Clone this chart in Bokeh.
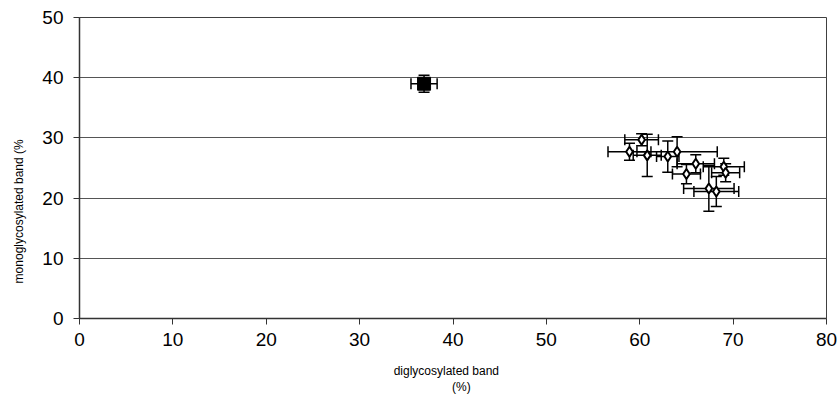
from bokeh.plotting import figure
from bokeh.models import ColumnDataSource, Whisker, TeeHead, FixedTicker, Range1d
from bokeh.embed import file_html
from bokeh.resources import INLINE

# ---- data ----
ref_x = [36.9]
ref_y = [39.0]
ref_xerr = [1.4]
ref_yerr = [1.4]

pts_x = [60.2, 58.9, 60.8, 63.0, 64.0, 66.0, 65.0, 69.0, 69.2, 67.4, 68.2]
pts_y = [29.7, 27.7, 27.1, 26.9, 27.7, 25.7, 24.0, 25.2, 24.2, 21.6, 21.1]
pts_xerr = [1.8, 2.3, 1.5, 1.2, 4.3, 2.0, 1.5, 2.2, 1.5, 2.7, 2.4]
pts_yerr = [1.0, 1.4, 3.5, 2.6, 2.5, 1.5, 1.6, 1.4, 1.5, 3.8, 2.5]

x_ticks = [0, 10, 20, 30, 40, 50, 60, 70, 80]
y_ticks = [0, 10, 20, 30, 40, 50]

x_title_lines = ["diglycosylated band", "(%)"]
y_title = "monoglycosylated band (%"

FONT = "Liberation Sans"
NBSP = "\u00a0"

p = figure(width=838, height=401, output_backend="svg", toolbar_location=None,
           x_range=Range1d(0, 80), y_range=Range1d(0, 50),
           min_border_left=79, min_border_right=12, min_border_top=17, min_border_bottom=83)
p.background_fill_color = "white"
p.border_fill_color = "white"
p.outline_line_color = "#404040"
p.outline_line_width = 1

p.xgrid.visible = False
p.ygrid.grid_line_color = "#555555"
p.ygrid.grid_line_width = 1
p.ygrid.ticker = FixedTicker(ticks=y_ticks)

for ax, ticks in ((p.xaxis, x_ticks), (p.yaxis, y_ticks)):
    ax.ticker = FixedTicker(ticks=ticks)
    ax.minor_tick_line_color = None
    ax.major_tick_in = 0
    ax.major_tick_out = 6
    ax.axis_line_color = "#333333"
    ax.axis_line_width = 1.5
    ax.major_tick_line_color = "#333333"
    ax.major_label_text_font = FONT
    ax.major_label_text_font_size = "19px"
    ax.major_label_text_color = "black"
    ax.axis_label_text_font = FONT
    ax.axis_label_text_font_size = "12px"
    ax.axis_label_text_font_style = "normal"
    ax.axis_label_text_color = "black"
p.xaxis.major_label_standoff = 8
p.yaxis.major_label_standoff = 10

# no-break spaces nudge each title line off-centre, as in the reference
p.xaxis.axis_label = x_title_lines[0] + NBSP * 4 + "\n" + NBSP * 5 + x_title_lines[1]
p.xaxis.axis_label_standoff = 15
p.xaxis.axis_label_text_line_height = 1.2
p.yaxis.axis_label = y_title + NBSP * 26
p.yaxis.axis_label_standoff = 13

# error bars
src_pts = ColumnDataSource(dict(
    x=pts_x, y=pts_y,
    xl=[a - b for a, b in zip(pts_x, pts_xerr)], xu=[a + b for a, b in zip(pts_x, pts_xerr)],
    yl=[a - b for a, b in zip(pts_y, pts_yerr)], yu=[a + b for a, b in zip(pts_y, pts_yerr)],
))
src_ref = ColumnDataSource(dict(
    x=ref_x, y=ref_y,
    xl=[a - b for a, b in zip(ref_x, ref_xerr)], xu=[a + b for a, b in zip(ref_x, ref_xerr)],
    yl=[a - b for a, b in zip(ref_y, ref_yerr)], yu=[a + b for a, b in zip(ref_y, ref_yerr)],
))

def head():
    return TeeHead(size=11, line_color="black", line_width=1.5)

for src in (src_ref, src_pts):
    p.add_layout(Whisker(source=src, base="y", lower="xl", upper="xu", dimension="width",
                         line_color="black", line_width=1.5, upper_head=head(), lower_head=head()))
    p.add_layout(Whisker(source=src, base="x", lower="yl", upper="yu", dimension="height",
                         line_color="black", line_width=1.5, upper_head=head(), lower_head=head()))

p.scatter("x", "y", source=src_ref, marker="square", size=13, fill_color="black", line_color="black")
p.scatter("x", "y", source=src_pts, marker="diamond", size=10, fill_color="white",
          line_color="black", line_width=2)

open("out.html", "w").write(file_html(p, INLINE))
